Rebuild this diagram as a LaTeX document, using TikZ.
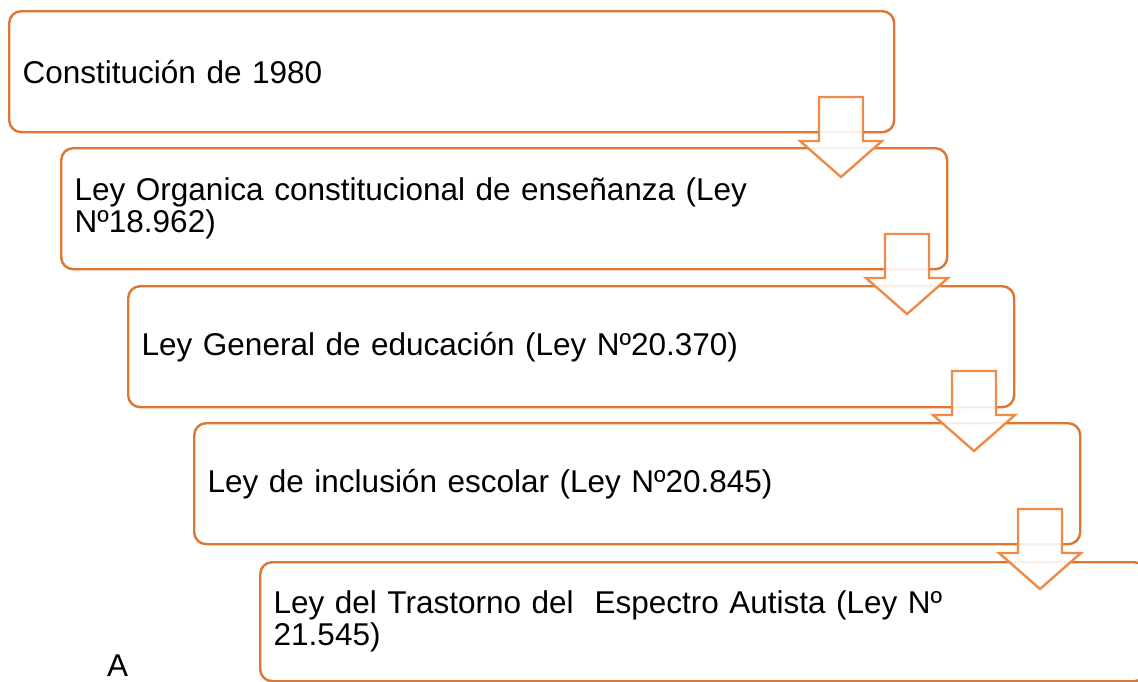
\documentclass[tikz,border=0pt]{standalone}
\usepackage{fontspec}
\setmainfont{Liberation Sans}
\usetikzlibrary{calc}
\definecolor{boxorange}{RGB}{222,118,50}
\definecolor{arroworange}{RGB}{239,139,70}
\begin{document}
\begin{tikzpicture}[x=1pt,y=-1pt,
  lawbox/.style={draw=boxorange, line width=2.4pt, rounded corners=12pt, fill=white,
    anchor=north west, minimum height=121pt, inner xsep=13.5pt, inner ysep=0pt,
    align=left, font=\fontsize{31.5}{32}\selectfont},
  downarrow/.style={draw=arroworange, line width=2.4pt, fill=white, fill opacity=0.88, line join=miter}]
\useasboundingbox (0,0) rectangle (1138,681);
\fill[white] (0,0) rectangle (1138,681);
\node[lawbox, minimum width=885pt, text width=858pt] (b1) at (8,10) {Constitución de 1980};
\node[lawbox, minimum width=886pt, text width=859pt] (b2) at (60,147) {Ley Organica constitucional de enseñanza (Ley\\Nº18.962)};
\node[lawbox, minimum width=886pt, text width=859pt] (b3) at (127,285) {Ley General de educación (Ley Nº20.370)};
\node[lawbox, minimum width=886pt, text width=859pt] (b4) at (193,422) {Ley de inclusión escolar (Ley Nº20.845)};
\node[lawbox, minimum width=886pt, text width=859pt, minimum height=119pt] (b5) at (259,561) {Ley del Trastorno del\ \ Espectro Autista (Ley Nº\\21.545)};
\node[anchor=base west, inner sep=0pt, font=\fontsize{31.5}{32}\selectfont] (lblA) at (107,676) {A};
\coordinate (t1) at (841,97);
\coordinate (t2) at (907,234);
\coordinate (t3) at (974,371);
\coordinate (t4) at (1040,509);
\foreach \i in {1,2,3,4}{
  \draw[downarrow] ($(t\i)+(-22,0)$) -- ++(44,0) -- ++(0,44) -- ++(19,0) -- ++(-41,36) -- ++(-41,-36) -- ++(19,0) -- cycle;
}
\end{tikzpicture}
\end{document}
